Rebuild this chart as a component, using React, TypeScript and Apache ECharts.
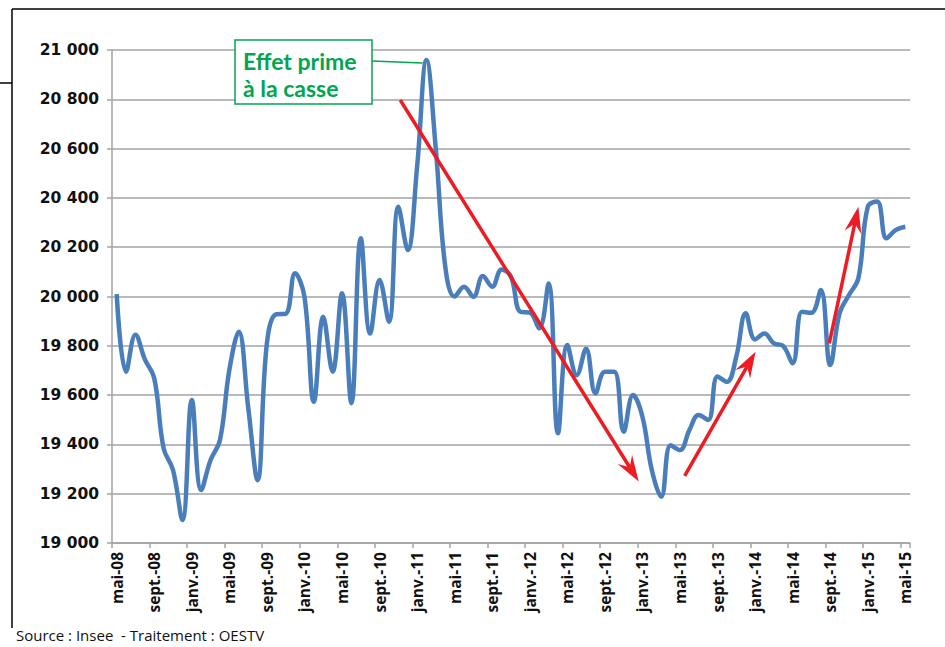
import React, { useEffect, useRef } from "react";
import * as echarts from "echarts";

// ---- Data ----
const MONTHS = ["janv.", "févr.", "mars", "avr.", "mai", "juin", "juil.", "août", "sept.", "oct.", "nov.", "déc."];
const START_MONTH = 4; // mai
const START_YEAR = 8; // 2008
const N_MONTHS = 85;
const categories: string[] = [];
for (let i = 0; i < N_MONTHS; i++) {
  const m = (START_MONTH + i) % 12;
  const y = START_YEAR + Math.floor((START_MONTH + i) / 12);
  categories.push(`${MONTHS[m]}-${String(y).padStart(2, "0")}`);
}

const values = [
  20010, 19695, 19845, 19745, 19668, 19384, 19296, 19093, 19580, 19215,
  19337, 19418, 19702, 19857, 19553, 19255, 19810, 19928, 19930, 20094,
  19999, 19573, 19918, 19695, 20013, 19567, 20236, 19850, 20067, 19898,
  20364, 20189, 20527, 20959, 20594, 20121, 20000, 20040, 19999, 20083,
  20040, 20110, 20080, 19938, 19935, 19871, 20053, 19445, 19803, 19681,
  19788, 19607, 19695, 19695, 19451, 19600, 19512, 19296, 19188, 19397,
  19377, 19458, 19519, 19499, 19675, 19654, 19756, 19932, 19826, 19850,
  19810, 19799, 19729, 19938, 19934, 20026, 19722, 19932, 20006, 20074,
  20364, 20385, 20236, 20270, 20283,
];

const Y_MIN = 19000;
const Y_MAX = 21000;
const Y_STEP = 200;

// trend arrows: [startIndex, startValue, endIndex, endValue]
const arrowDown = [30.2, 20797, 55.6, 19249];
const arrowUp1 = [60.5, 19272, 68.05, 19776];
const arrowUp2 = [75.9, 19810, 79.0, 20364];
const peakIndex = 33;

const annotationLines = ["Effet prime", "à la casse"];
const sourceText = "Source : Insee  - Traitement : OESTV";

const BLUE = "#4a7ebb";
const RED = "#ed1c24";
const GREEN = "#00a651";
const GRID_GRAY = "#a3a3a3";

function fmt(v: number) {
  const th = Math.floor(v / 1000);
  const rest = String(v % 1000).padStart(3, "0");
  return `${th} ${rest}`;
}

export default function App() {
  const ref = useRef<HTMLDivElement>(null);
  useEffect(() => {
    document.body.style.margin = "0";
    if (!ref.current) return;
    const chart = echarts.init(ref.current, undefined, { renderer: "svg" });
    chart.setOption({
      animation: false,
      backgroundColor: "#ffffff",
      grid: { left: 112, right: 35, top: 50, bottom: 104, containLabel: false },
      xAxis: {
        type: "category",
        data: categories,
        boundaryGap: true,
        axisLine: { show: true, lineStyle: { color: GRID_GRAY, width: 1.5 } },
        axisTick: { show: true, interval: 3, length: 5, lineStyle: { color: GRID_GRAY, width: 1.5 } },
        axisLabel: {
          interval: 3,
          rotate: 90,
          margin: 9,
          color: "#111",
          fontFamily: "Open Sans",
          fontWeight: "bold",
          fontSize: 15.5,
        },
        splitLine: { show: false },
      },
      yAxis: {
        type: "value",
        min: Y_MIN,
        max: Y_MAX,
        interval: Y_STEP,
        axisLine: { show: true, lineStyle: { color: GRID_GRAY, width: 1.5 } },
        axisTick: { show: true, length: 5, lineStyle: { color: GRID_GRAY, width: 1.5 } },
        axisLabel: {
          formatter: (v: number) => fmt(v),
          margin: 13,
          color: "#111",
          fontFamily: "DejaVu Sans",
          fontWeight: "bold",
          fontSize: 15.5,
        },
        splitLine: { show: true, lineStyle: { color: GRID_GRAY, width: 1.5 } },
      },
      series: [
        {
          type: "line",
          data: values,
          smooth: 0.4,
          showSymbol: false,
          symbol: "none",
          lineStyle: { color: BLUE, width: 4.5 },
          z: 3,
        },
      ],
    });

    const p0 = chart.convertToPixel({ gridIndex: 0 }, [0, Y_MIN]) as number[];
    const p1 = chart.convertToPixel({ gridIndex: 0 }, [1, Y_MAX]) as number[];
    const dx = p1[0] - p0[0];
    const toPx = (idx: number, val: number) => [
      p0[0] + idx * dx,
      p0[1] + ((val - Y_MIN) / (Y_MAX - Y_MIN)) * (p1[1] - p0[1]),
    ];

    const arrow = (a: number[]) => {
      const s = toPx(a[0], a[1]);
      const e = toPx(a[2], a[3]);
      const len = Math.hypot(e[0] - s[0], e[1] - s[1]);
      const d = [(e[0] - s[0]) / len, (e[1] - s[1]) / len];
      const n = [-d[1], d[0]];
      const L = 26, W = 8.5, N = 9;
      const base = [e[0] - d[0] * L, e[1] - d[1] * L];
      const notch = [e[0] - d[0] * (L - N), e[1] - d[1] * (L - N)];
      return [
        {
          type: "line",
          z: 10,
          shape: { x1: s[0], y1: s[1], x2: notch[0], y2: notch[1] },
          style: { stroke: RED, lineWidth: 3.5 },
        },
        {
          type: "polygon",
          z: 10,
          shape: {
            points: [
              e,
              [base[0] + n[0] * W, base[1] + n[1] * W],
              notch,
              [base[0] - n[0] * W, base[1] - n[1] * W],
            ],
          },
          style: { fill: RED },
        },
      ];
    };

    const peak = toPx(peakIndex, values[peakIndex]);

    chart.setOption({
      graphic: [
        // frame lines
        { type: "line", shape: { x1: 12, y1: 9, x2: 945, y2: 9 }, style: { stroke: "#000", lineWidth: 1.5 } },
        { type: "line", shape: { x1: 12, y1: 9, x2: 12, y2: 628 }, style: { stroke: "#000", lineWidth: 1.5 } },
        { type: "line", shape: { x1: 0, y1: 83, x2: 12, y2: 83 }, style: { stroke: "#000", lineWidth: 1.5 } },
        ...arrow(arrowDown),
        ...arrow(arrowUp1),
        ...arrow(arrowUp2),
        // callout line
        {
          type: "line",
          z: 11,
          shape: { x1: 372, y1: 61, x2: peak[0] - 4, y2: peak[1] + 3 },
          style: { stroke: GREEN, lineWidth: 1.5 },
        },
        {
          type: "rect",
          z: 11,
          shape: { x: 235, y: 40, width: 137, height: 64 },
          style: { fill: "#fff", stroke: GREEN, lineWidth: 1.5 },
        },
        {
          type: "text",
          z: 12,
          x: 243,
          y: 61,
          style: {
            text: annotationLines[0],
            fill: GREEN,
            font: "bold 23px Lato",
            verticalAlign: "middle",
          },
        },
        {
          type: "text",
          z: 12,
          x: 243,
          y: 88,
          style: {
            text: annotationLines[1],
            fill: GREEN,
            font: "bold 23px Lato",
            verticalAlign: "middle",
          },
        },
        {
          type: "text",
          x: 16,
          y: 635,
          style: {
            text: sourceText,
            fill: "#111",
            font: "15px 'Open Sans'",
            verticalAlign: "middle",
          },
        },
      ],
    });

    return () => chart.dispose();
  }, []);
  return <div ref={ref} style={{ width: 945, height: 647 }} />;
}
